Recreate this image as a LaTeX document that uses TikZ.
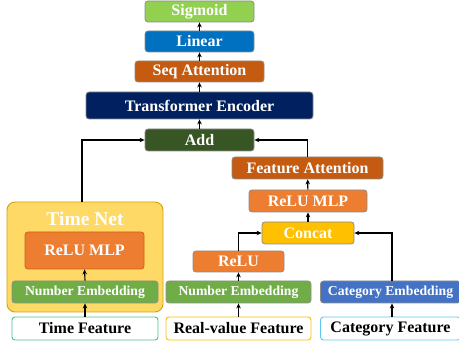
\documentclass[tikz,border=0pt]{standalone}
\usepackage{fontspec}
\setmainfont{Liberation Serif}
\usetikzlibrary{arrows.meta}
\definecolor{csig}{HTML}{92D050}
\definecolor{clin}{HTML}{0070C0}
\definecolor{cseq}{HTML}{C55A11}
\definecolor{ctrans}{HTML}{002060}
\definecolor{cadd}{HTML}{375623}
\definecolor{cmlp}{HTML}{ED7D31}
\definecolor{cconcat}{HTML}{FFC000}
\definecolor{cnum}{HTML}{70AD47}
\definecolor{ccat}{HTML}{4472C4}
\definecolor{ctnfill}{HTML}{FFD966}
\definecolor{ctndraw}{HTML}{D4A20A}
\definecolor{cgray}{HTML}{8C8C8C}
\definecolor{ctimef}{HTML}{4CC38A}
\definecolor{crealf}{HTML}{FFC000}
\definecolor{ccatf}{HTML}{5BC8F5}
\tikzset{
  blk/.style={draw=cgray, line width=0.8pt, rounded corners=3pt, inner sep=0pt,
    text=white, font=\fontsize{16}{16}\selectfont\bfseries},
  smallblk/.style={blk, font=\fontsize{13.7}{14}\selectfont\bfseries},
  featbox/.style={draw=#1, line width=0.9pt, rounded corners=3pt, fill=white, inner sep=0pt,
    text=black, font=\fontsize{16}{16}\selectfont\bfseries},
  arr/.style={-{Stealth[length=5pt,width=4.5pt]}, line width=1.1pt, black},
}
\begin{document}
\begin{tikzpicture}[x=1pt,y=-1pt]
\useasboundingbox (0,0) rectangle (459,345);
% Time Net container
\node[draw=ctndraw, fill=ctnfill, line width=0.9pt, rounded corners=8pt,
  minimum width=156pt, minimum height=110pt, inner sep=0pt] (timenet) at (85,257) {};
\node[text=white, font=\fontsize{19.5}{20}\selectfont\bfseries] (tnlabel) at (85,218.5) {Time Net};
\node[blk, fill=cmlp, draw=cseq!80!cmlp, minimum width=119pt, minimum height=37pt] (mlpL) at (84.5,250.5) {ReLU MLP};
\node[smallblk, fill=cnum, minimum width=146pt, minimum height=22pt] (numL) at (85,292) {Number Embedding};
\node[featbox=ctimef, minimum width=146pt, minimum height=23pt] (timef) at (85,328.5) {Time Feature};

% Top stack
\node[blk, fill=csig, minimum width=109pt, minimum height=21pt] (sig) at (199.5,11.5) {Sigmoid};
\node[blk, fill=clin, minimum width=109pt, minimum height=21pt] (lin) at (199.5,41.5) {Linear};
\node[blk, fill=cseq, minimum width=129pt, minimum height=21pt] (seq) at (199.5,71.5) {Seq Attention};
\node[blk, fill=ctrans, minimum width=227pt, minimum height=27pt] (trans) at (199.5,105.5) {Transformer Encoder};
\node[blk, fill=cadd, minimum width=109pt, minimum height=22pt] (add) at (199.5,140) {Add};

% Right branch
\node[blk, fill=cseq, minimum width=151pt, minimum height=22pt] (fatt) at (307.5,168) {Feature Attention};
\node[blk, fill=cmlp, minimum width=118pt, minimum height=22pt] (mlpR) at (308,201) {ReLU MLP};
\node[blk, fill=cconcat, minimum width=92pt, minimum height=22pt] (concat) at (308,233) {Concat};
\node[blk, fill=cmlp, minimum width=91pt, minimum height=21pt] (relu) at (238.5,261.5) {ReLU};
\node[smallblk, fill=cnum, minimum width=145pt, minimum height=22pt] (numR) at (238.5,292) {Number Embedding};
\node[smallblk, fill=ccat, minimum width=140pt, minimum height=22pt] (catemb) at (390.5,292) {Category Embedding};
\node[featbox=ccatf, minimum width=140pt, minimum height=23pt] (catf) at (390.5,328.5) {Category Feature};
\node[featbox=crealf, minimum width=145pt, minimum height=23pt] (realf) at (238.5,328.5) {Real-value Feature};

% Arrows
\draw[arr] (lin) -- (sig);
\draw[arr] (seq) -- (lin);
\draw[arr] (trans) -- (seq);
\draw[arr] (add) -- (trans);
\draw[arr] ([xshift=-3pt]timenet.north) |- (add.west);
\draw[arr] (fatt.north) |- (add.east);
\draw[arr] (mlpR) -- (fatt);
\draw[arr] (concat) -- (mlpR);
\draw[arr] (relu.north) |- (concat.west);
\draw[arr] ([xshift=1.5pt]catemb.north) |- (concat.east);
\draw[arr] (numR) -- (relu);
\draw[arr] (realf) -- (numR);
\draw[arr] ([xshift=1.5pt]catf.north) -- ([xshift=1.5pt]catemb.south);
\draw[arr] (timef) -- (numL);
\draw[arr] (numL.north) -- (mlpL.south);
\end{tikzpicture}
\end{document}
